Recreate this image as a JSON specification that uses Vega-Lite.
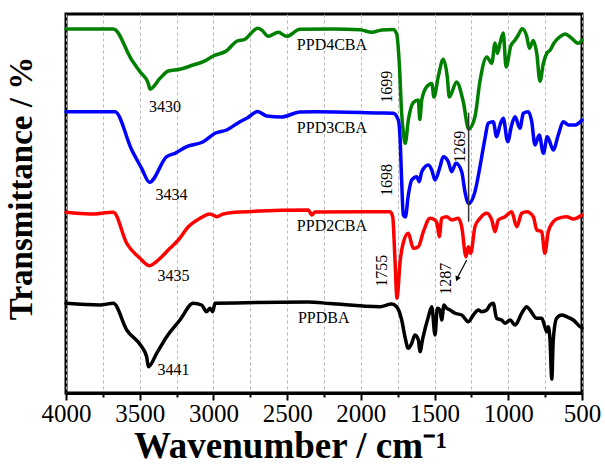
{
  "$schema": "https://vega.github.io/schema/vega-lite/v6.json",
  "width": 516,
  "height": 379,
  "autosize": "none",
  "padding": {"left": 66, "top": 14, "right": 23, "bottom": 73},
  "background": "white",
  "config": {
    "view": {"stroke": "black", "strokeWidth": 3},
    "font": "Liberation Serif",
    "text": {"font": "Liberation Serif"}
  },
  "datasets": {
    "spectra": [
      {"wn":4000,"t":364,"s":"PPD4CBA"},{"wn":3850,"t":364,"s":"PPD4CBA"},{"wn":3679,"t":364,"s":"PPD4CBA"},{"wn":3554,"t":333,"s":"PPD4CBA"},{"wn":3498,"t":321.3,"s":"PPD4CBA"},{"wn":3442,"t":309.7,"s":"PPD4CBA"},{"wn":3430,"t":304,"s":"PPD4CBA"},{"wn":3362,"t":314.7,"s":"PPD4CBA"},{"wn":3306,"t":322,"s":"PPD4CBA"},{"wn":3227,"t":323.7,"s":"PPD4CBA"},{"wn":3137,"t":328,"s":"PPD4CBA"},{"wn":3069,"t":331.3,"s":"PPD4CBA"},{"wn":3001,"t":337,"s":"PPD4CBA"},{"wn":2910,"t":342.3,"s":"PPD4CBA"},{"wn":2842,"t":351.8,"s":"PPD4CBA"},{"wn":2786,"t":353.8,"s":"PPD4CBA"},{"wn":2700,"t":364.7,"s":"PPD4CBA"},{"wn":2673,"t":363,"s":"PPD4CBA"},{"wn":2628,"t":356.7,"s":"PPD4CBA"},{"wn":2560,"t":360.7,"s":"PPD4CBA"},{"wn":2503,"t":356.7,"s":"PPD4CBA"},{"wn":2413,"t":363.7,"s":"PPD4CBA"},{"wn":2189,"t":364,"s":"PPD4CBA"},{"wn":2006,"t":363.3,"s":"PPD4CBA"},{"wn":1926,"t":360.7,"s":"PPD4CBA"},{"wn":1859,"t":363,"s":"PPD4CBA"},{"wn":1780,"t":363.5,"s":"PPD4CBA"},{"wn":1757,"t":359,"s":"PPD4CBA"},{"wn":1739,"t":329,"s":"PPD4CBA"},{"wn":1723,"t":279,"s":"PPD4CBA"},{"wn":1712,"t":260.7,"s":"PPD4CBA"},{"wn":1699,"t":249.7,"s":"PPD4CBA"},{"wn":1678,"t":273,"s":"PPD4CBA"},{"wn":1644,"t":290.5,"s":"PPD4CBA"},{"wn":1610,"t":293,"s":"PPD4CBA"},{"wn":1600,"t":273.5,"s":"PPD4CBA"},{"wn":1587,"t":293,"s":"PPD4CBA"},{"wn":1553,"t":306.3,"s":"PPD4CBA"},{"wn":1519,"t":309.5,"s":"PPD4CBA"},{"wn":1504,"t":296,"s":"PPD4CBA"},{"wn":1475,"t":316.3,"s":"PPD4CBA"},{"wn":1441,"t":333.8,"s":"PPD4CBA"},{"wn":1414,"t":316.3,"s":"PPD4CBA"},{"wn":1400,"t":296,"s":"PPD4CBA"},{"wn":1351,"t":311,"s":"PPD4CBA"},{"wn":1305,"t":291,"s":"PPD4CBA"},{"wn":1269,"t":264,"s":"PPD4CBA"},{"wn":1226,"t":276.3,"s":"PPD4CBA"},{"wn":1192,"t":312,"s":"PPD4CBA"},{"wn":1146,"t":336,"s":"PPD4CBA"},{"wn":1112,"t":329.7,"s":"PPD4CBA"},{"wn":1090,"t":350,"s":"PPD4CBA"},{"wn":1074,"t":339.7,"s":"PPD4CBA"},{"wn":1056,"t":349.7,"s":"PPD4CBA"},{"wn":1034,"t":360,"s":"PPD4CBA"},{"wn":1015,"t":326,"s":"PPD4CBA"},{"wn":983,"t":347,"s":"PPD4CBA"},{"wn":954,"t":353,"s":"PPD4CBA"},{"wn":932,"t":358,"s":"PPD4CBA"},{"wn":906,"t":364.3,"s":"PPD4CBA"},{"wn":875,"t":356.8,"s":"PPD4CBA"},{"wn":857,"t":344.7,"s":"PPD4CBA"},{"wn":830,"t":352.5,"s":"PPD4CBA"},{"wn":807,"t":339.7,"s":"PPD4CBA"},{"wn":785,"t":311.8,"s":"PPD4CBA"},{"wn":762,"t":329.7,"s":"PPD4CBA"},{"wn":739,"t":339.7,"s":"PPD4CBA"},{"wn":717,"t":342.7,"s":"PPD4CBA"},{"wn":690,"t":350,"s":"PPD4CBA"},{"wn":649,"t":356.3,"s":"PPD4CBA"},{"wn":615,"t":359,"s":"PPD4CBA"},{"wn":570,"t":354.7,"s":"PPD4CBA"},{"wn":525,"t":349.7,"s":"PPD4CBA"},{"wn":500,"t":353,"s":"PPD4CBA"},

      {"wn":4000,"t":281.3,"s":"PPD3CBA"},{"wn":3668,"t":281.3,"s":"PPD3CBA"},{"wn":3554,"t":243,"s":"PPD3CBA"},{"wn":3487,"t":224.7,"s":"PPD3CBA"},{"wn":3434,"t":210.7,"s":"PPD3CBA"},{"wn":3317,"t":236.3,"s":"PPD3CBA"},{"wn":3261,"t":239.7,"s":"PPD3CBA"},{"wn":3181,"t":246.3,"s":"PPD3CBA"},{"wn":3069,"t":251.3,"s":"PPD3CBA"},{"wn":2989,"t":259.7,"s":"PPD3CBA"},{"wn":2910,"t":263,"s":"PPD3CBA"},{"wn":2820,"t":271.3,"s":"PPD3CBA"},{"wn":2774,"t":274.7,"s":"PPD3CBA"},{"wn":2700,"t":281.5,"s":"PPD3CBA"},{"wn":2639,"t":277,"s":"PPD3CBA"},{"wn":2540,"t":276,"s":"PPD3CBA"},{"wn":2413,"t":281,"s":"PPD3CBA"},{"wn":2300,"t":281.3,"s":"PPD3CBA"},{"wn":1870,"t":280,"s":"PPD3CBA"},{"wn":1780,"t":279.7,"s":"PPD3CBA"},{"wn":1746,"t":273,"s":"PPD3CBA"},{"wn":1734,"t":255,"s":"PPD3CBA"},{"wn":1723,"t":211.3,"s":"PPD3CBA"},{"wn":1712,"t":178,"s":"PPD3CBA"},{"wn":1698,"t":176,"s":"PPD3CBA"},{"wn":1678,"t":198,"s":"PPD3CBA"},{"wn":1655,"t":213,"s":"PPD3CBA"},{"wn":1621,"t":216.3,"s":"PPD3CBA"},{"wn":1604,"t":211.3,"s":"PPD3CBA"},{"wn":1587,"t":221.3,"s":"PPD3CBA"},{"wn":1542,"t":228,"s":"PPD3CBA"},{"wn":1519,"t":223,"s":"PPD3CBA"},{"wn":1497,"t":213,"s":"PPD3CBA"},{"wn":1463,"t":226.3,"s":"PPD3CBA"},{"wn":1441,"t":236.3,"s":"PPD3CBA"},{"wn":1407,"t":231.3,"s":"PPD3CBA"},{"wn":1384,"t":221.3,"s":"PPD3CBA"},{"wn":1355,"t":229.7,"s":"PPD3CBA"},{"wn":1316,"t":221.3,"s":"PPD3CBA"},{"wn":1294,"t":201.3,"s":"PPD3CBA"},{"wn":1269,"t":189.5,"s":"PPD3CBA"},{"wn":1226,"t":201.3,"s":"PPD3CBA"},{"wn":1192,"t":226.3,"s":"PPD3CBA"},{"wn":1158,"t":254.7,"s":"PPD3CBA"},{"wn":1136,"t":269.7,"s":"PPD3CBA"},{"wn":1102,"t":271.3,"s":"PPD3CBA"},{"wn":1079,"t":256.3,"s":"PPD3CBA"},{"wn":1056,"t":268,"s":"PPD3CBA"},{"wn":1034,"t":274.7,"s":"PPD3CBA"},{"wn":1004,"t":251.3,"s":"PPD3CBA"},{"wn":977,"t":268,"s":"PPD3CBA"},{"wn":954,"t":276.3,"s":"PPD3CBA"},{"wn":921,"t":264.7,"s":"PPD3CBA"},{"wn":898,"t":279.7,"s":"PPD3CBA"},{"wn":864,"t":281.3,"s":"PPD3CBA"},{"wn":841,"t":271.3,"s":"PPD3CBA"},{"wn":819,"t":248,"s":"PPD3CBA"},{"wn":790,"t":258,"s":"PPD3CBA"},{"wn":762,"t":239.7,"s":"PPD3CBA"},{"wn":735,"t":256.3,"s":"PPD3CBA"},{"wn":695,"t":243,"s":"PPD3CBA"},{"wn":661,"t":258,"s":"PPD3CBA"},{"wn":627,"t":271.3,"s":"PPD3CBA"},{"wn":593,"t":268,"s":"PPD3CBA"},{"wn":547,"t":268,"s":"PPD3CBA"},{"wn":500,"t":273,"s":"PPD3CBA"},

      {"wn":4000,"t":180.7,"s":"PPD2CBA"},{"wn":3837,"t":179,"s":"PPD2CBA"},{"wn":3679,"t":180.7,"s":"PPD2CBA"},{"wn":3588,"t":149.7,"s":"PPD2CBA"},{"wn":3498,"t":134.7,"s":"PPD2CBA"},{"wn":3435,"t":127.3,"s":"PPD2CBA"},{"wn":3362,"t":134.7,"s":"PPD2CBA"},{"wn":3295,"t":144.7,"s":"PPD2CBA"},{"wn":3238,"t":153,"s":"PPD2CBA"},{"wn":3170,"t":166.3,"s":"PPD2CBA"},{"wn":3091,"t":174.7,"s":"PPD2CBA"},{"wn":3023,"t":179,"s":"PPD2CBA"},{"wn":2978,"t":176.3,"s":"PPD2CBA"},{"wn":2933,"t":179,"s":"PPD2CBA"},{"wn":2820,"t":181,"s":"PPD2CBA"},{"wn":2356,"t":183,"s":"PPD2CBA"},{"wn":2333,"t":178,"s":"PPD2CBA"},{"wn":2311,"t":181,"s":"PPD2CBA"},{"wn":1802,"t":181.3,"s":"PPD2CBA"},{"wn":1784,"t":176.3,"s":"PPD2CBA"},{"wn":1768,"t":131.3,"s":"PPD2CBA"},{"wn":1755,"t":94.7,"s":"PPD2CBA"},{"wn":1734,"t":131.3,"s":"PPD2CBA"},{"wn":1716,"t":148,"s":"PPD2CBA"},{"wn":1678,"t":159.7,"s":"PPD2CBA"},{"wn":1644,"t":144.7,"s":"PPD2CBA"},{"wn":1610,"t":146.3,"s":"PPD2CBA"},{"wn":1576,"t":161.3,"s":"PPD2CBA"},{"wn":1531,"t":174.7,"s":"PPD2CBA"},{"wn":1497,"t":173,"s":"PPD2CBA"},{"wn":1481,"t":168,"s":"PPD2CBA"},{"wn":1468,"t":156.3,"s":"PPD2CBA"},{"wn":1452,"t":174.7,"s":"PPD2CBA"},{"wn":1418,"t":176.3,"s":"PPD2CBA"},{"wn":1384,"t":173,"s":"PPD2CBA"},{"wn":1339,"t":174.7,"s":"PPD2CBA"},{"wn":1316,"t":166.3,"s":"PPD2CBA"},{"wn":1287,"t":136.3,"s":"PPD2CBA"},{"wn":1271,"t":146.3,"s":"PPD2CBA"},{"wn":1255,"t":139.7,"s":"PPD2CBA"},{"wn":1226,"t":166.3,"s":"PPD2CBA"},{"wn":1192,"t":174.7,"s":"PPD2CBA"},{"wn":1146,"t":179.7,"s":"PPD2CBA"},{"wn":1112,"t":173,"s":"PPD2CBA"},{"wn":1090,"t":161.3,"s":"PPD2CBA"},{"wn":1068,"t":173,"s":"PPD2CBA"},{"wn":1022,"t":176.3,"s":"PPD2CBA"},{"wn":977,"t":181.3,"s":"PPD2CBA"},{"wn":943,"t":166.3,"s":"PPD2CBA"},{"wn":909,"t":179.7,"s":"PPD2CBA"},{"wn":875,"t":181.3,"s":"PPD2CBA"},{"wn":830,"t":176.3,"s":"PPD2CBA"},{"wn":807,"t":163,"s":"PPD2CBA"},{"wn":773,"t":161.3,"s":"PPD2CBA"},{"wn":752,"t":139.7,"s":"PPD2CBA"},{"wn":729,"t":161.3,"s":"PPD2CBA"},{"wn":695,"t":171.3,"s":"PPD2CBA"},{"wn":661,"t":174.7,"s":"PPD2CBA"},{"wn":604,"t":176.3,"s":"PPD2CBA"},{"wn":559,"t":174,"s":"PPD2CBA"},{"wn":500,"t":178,"s":"PPD2CBA"},

      {"wn":4000,"t":89.7,"s":"PPDBA"},{"wn":3769,"t":88,"s":"PPDBA"},{"wn":3679,"t":89.7,"s":"PPDBA"},{"wn":3588,"t":63,"s":"PPDBA"},{"wn":3487,"t":46.3,"s":"PPDBA"},{"wn":3453,"t":36.3,"s":"PPDBA"},{"wn":3441,"t":26.3,"s":"PPDBA"},{"wn":3385,"t":39.7,"s":"PPDBA"},{"wn":3317,"t":56.3,"s":"PPDBA"},{"wn":3227,"t":73,"s":"PPDBA"},{"wn":3137,"t":89.7,"s":"PPDBA"},{"wn":3080,"t":88,"s":"PPDBA"},{"wn":3046,"t":81.3,"s":"PPDBA"},{"wn":3023,"t":84.7,"s":"PPDBA"},{"wn":3005,"t":81.3,"s":"PPDBA"},{"wn":2989,"t":89.7,"s":"PPDBA"},{"wn":2359,"t":91,"s":"PPDBA"},{"wn":2209,"t":89.5,"s":"PPDBA"},{"wn":1870,"t":86.3,"s":"PPDBA"},{"wn":1791,"t":89,"s":"PPDBA"},{"wn":1757,"t":86.3,"s":"PPDBA"},{"wn":1723,"t":73,"s":"PPDBA"},{"wn":1701,"t":56.3,"s":"PPDBA"},{"wn":1678,"t":44.7,"s":"PPDBA"},{"wn":1655,"t":49.7,"s":"PPDBA"},{"wn":1633,"t":58,"s":"PPDBA"},{"wn":1610,"t":53,"s":"PPDBA"},{"wn":1599,"t":41.3,"s":"PPDBA"},{"wn":1580,"t":54.7,"s":"PPDBA"},{"wn":1542,"t":76.3,"s":"PPDBA"},{"wn":1519,"t":86.3,"s":"PPDBA"},{"wn":1497,"t":58,"s":"PPDBA"},{"wn":1481,"t":84.7,"s":"PPDBA"},{"wn":1463,"t":83,"s":"PPDBA"},{"wn":1452,"t":73,"s":"PPDBA"},{"wn":1436,"t":88,"s":"PPDBA"},{"wn":1418,"t":84.7,"s":"PPDBA"},{"wn":1395,"t":83,"s":"PPDBA"},{"wn":1361,"t":79.7,"s":"PPDBA"},{"wn":1316,"t":78,"s":"PPDBA"},{"wn":1271,"t":71.3,"s":"PPDBA"},{"wn":1237,"t":78,"s":"PPDBA"},{"wn":1203,"t":83,"s":"PPDBA"},{"wn":1181,"t":81.3,"s":"PPDBA"},{"wn":1146,"t":83,"s":"PPDBA"},{"wn":1124,"t":88,"s":"PPDBA"},{"wn":1102,"t":89.7,"s":"PPDBA"},{"wn":1079,"t":74.7,"s":"PPDBA"},{"wn":1045,"t":73,"s":"PPDBA"},{"wn":1022,"t":69.7,"s":"PPDBA"},{"wn":988,"t":73,"s":"PPDBA"},{"wn":954,"t":68,"s":"PPDBA"},{"wn":909,"t":79.7,"s":"PPDBA"},{"wn":875,"t":86.3,"s":"PPDBA"},{"wn":853,"t":83,"s":"PPDBA"},{"wn":807,"t":74.7,"s":"PPDBA"},{"wn":773,"t":74.7,"s":"PPDBA"},{"wn":752,"t":66.3,"s":"PPDBA"},{"wn":739,"t":61.3,"s":"PPDBA"},{"wn":729,"t":66.3,"s":"PPDBA"},{"wn":717,"t":53,"s":"PPDBA"},{"wn":705,"t":14,"s":"PPDBA"},{"wn":695,"t":53,"s":"PPDBA"},{"wn":672,"t":74.7,"s":"PPDBA"},{"wn":638,"t":78,"s":"PPDBA"},{"wn":604,"t":76.3,"s":"PPDBA"},{"wn":559,"t":73,"s":"PPDBA"},{"wn":513,"t":66.3,"s":"PPDBA"},{"wn":500,"t":65,"s":"PPDBA"}
    ],
    "labels": [
      {"wn":3328,"t":286.5,"text":"3430"},
      {"wn":3284,"t":198.5,"text":"3434"},
      {"wn":3271,"t":117,"text":"3435"},
      {"wn":3271,"t":23,"text":"3441"},
      {"wn":2196,"t":348.5,"text":"PPD4CBA"},
      {"wn":2196,"t":265.5,"text":"PPD3CBA"},
      {"wn":2196,"t":167,"text":"PPD2CBA"},
      {"wn":2252,"t":75.5,"text":"PPDBA"}
    ],
    "vlabels": [
      {"wn":1825,"t":306.3,"text":"1699"},
      {"wn":1825,"t":213,"text":"1698"},
      {"wn":1330,"t":246.3,"text":"1269"},
      {"wn":1857,"t":122.2,"text":"1755"},
      {"wn":1420,"t":114.3,"text":"1287"}
    ],
    "vline": [{"wn":1269,"t":280.3,"t2":171.3}],
    "arrow": [{"wn":1282,"t":133,"wn2":1346,"t2":115}],
    "head": [{"wn":1347,"t":114}]
  },
  "encoding": {
    "x": {
      "field": "wn", "type": "quantitative",
      "scale": {"domain": [500, 4000], "reverse": true, "nice": false, "zero": false},
      "axis": {
        "values": [4000,3750,3500,3250,3000,2750,2500,2250,2000,1750,1500,1250,1000,750,500],
        "labelExpr": "datum.value % 500 === 0 ? format(datum.value, 'd') : ''",
        "labelFont": "Liberation Serif", "labelFontSize": 25, "labelColor": "black",
        "labelOverlap": false, "labelFlush": false, "labelPadding": 1,
        "ticks": true, "tickColor": "black", "tickWidth": 2,
        "tickSize": {"condition": {"test": "datum.value % 500 === 0", "value": 7}, "value": 4},
        "domain": true, "domainColor": "black", "domainWidth": 3,
        "grid": true, "gridDash": [3, 3], "gridColor": "#b5b5b5", "gridWidth": 1,
        "title": "Wavenumber / cm⁻¹",
        "titleFont": "Liberation Serif", "titleFontSize": 37, "titleFontWeight": "bold", "titleColor": "black",
        "titleX": 224, "titleY": 64, "titleAlign": "center", "titleBaseline": "alphabetic"
      }
    },
    "y": {
      "field": "t", "type": "quantitative",
      "scale": {"domain": [0, 379], "nice": false, "zero": false},
      "axis": {
        "labels": false, "ticks": false, "domain": false, "grid": false,
        "title": "Transmittance / %",
        "titleFont": "Liberation Serif", "titleFontSize": 33, "titleFontWeight": "bold", "titleColor": "black",
        "titlePadding": 28, "titleY": 174
      }
    }
  },
  "layer": [
    {
      "data": {"name": "spectra"},
      "mark": {"type": "line", "strokeWidth": 3.5, "strokeJoin": "round", "strokeCap": "round", "interpolate": "monotone"},
      "encoding": {
        "color": {
          "field": "s", "type": "nominal",
          "scale": {"domain": ["PPDBA", "PPD2CBA", "PPD3CBA", "PPD4CBA"], "range": ["#000000", "#ff0000", "#0000ff", "#008000"]},
          "legend": null
        }
      }
    },
    {
      "data": {"name": "vline"},
      "mark": {"type": "rule", "color": "#333333", "strokeWidth": 1.5},
      "encoding": {"y2": {"field": "t2"}}
    },
    {
      "data": {"name": "arrow"},
      "mark": {"type": "rule", "color": "black", "strokeWidth": 1.2},
      "encoding": {"x2": {"field": "wn2"}, "y2": {"field": "t2"}}
    },
    {
      "data": {"name": "head"},
      "mark": {"type": "point", "shape": "triangle-down", "filled": true, "color": "black", "size": 35, "angle": 24, "opacity": 1},
      "encoding": {}
    },
    {
      "data": {"name": "labels"},
      "mark": {"type": "text", "font": "Liberation Serif", "fontSize": 16, "align": "center", "baseline": "middle", "color": "black"},
      "encoding": {"text": {"field": "text"}}
    },
    {
      "data": {"name": "vlabels"},
      "mark": {"type": "text", "font": "Liberation Serif", "fontSize": 16, "align": "center", "baseline": "middle", "color": "black", "angle": 270},
      "encoding": {"text": {"field": "text"}}
    }
  ]
}
